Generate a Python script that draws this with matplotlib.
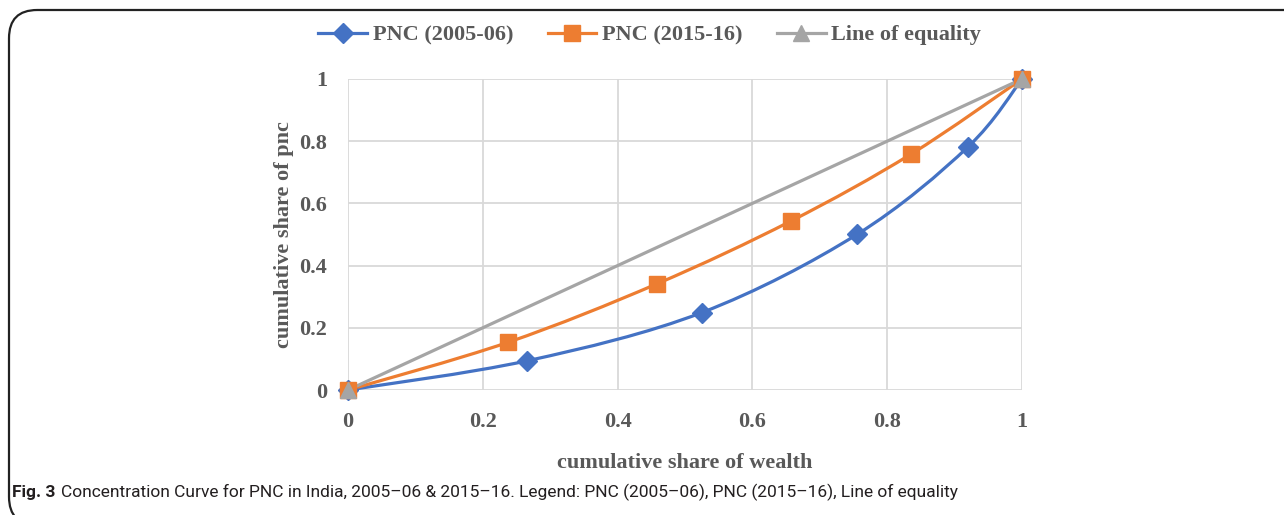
import numpy as np
import matplotlib.pyplot as plt
from matplotlib.path import Path
from matplotlib.patches import PathPatch, FancyBboxPatch
from matplotlib.lines import Line2D

# cumulative share of wealth / pnc
x_2005 = [0, 0.266, 0.525, 0.755, 0.92, 1.0]
y_2005 = [0, 0.094, 0.249, 0.50, 0.782, 1.0]
x_2015 = [0, 0.237, 0.458, 0.657, 0.835, 1.0]
y_2015 = [0, 0.153, 0.341, 0.543, 0.758, 1.0]
x_eq = [0, 1]
y_eq = [0, 1]

ticks = [0, 0.2, 0.4, 0.6, 0.8, 1.0]
tick_labels = ['0', '0.2', '0.4', '0.6', '0.8', '1']

blue = '#4472C4'
orange = '#ED7D31'
grey = '#A5A5A5'
txt = '#595959'
serif = ['Liberation Serif', 'DejaVu Serif']
fs = 16


def smooth_path(xs, ys):
    # excel-like smoothed line: catmull-rom converted to cubic bezier
    p = np.column_stack([xs, ys]).astype(float)
    n = len(p)
    verts = [p[0]]
    codes = [Path.MOVETO]
    for i in range(n - 1):
        p0 = p[i - 1] if i > 0 else p[i]
        p3 = p[i + 2] if i + 2 < n else p[i + 1]
        c1 = p[i] + (p[i + 1] - p0) / 6
        c2 = p[i + 1] - (p3 - p[i]) / 6
        verts += [c1, c2, p[i + 1]]
        codes += [Path.CURVE4] * 3
    return Path(verts, codes)


fig = plt.figure(figsize=(12.84, 5.15), dpi=100)
ax = fig.add_axes([0.271, 0.2427, 0.525, 0.604])

for xs, ys, c, m, ms in [(x_2005, y_2005, blue, 'D', 10),
                         (x_2015, y_2015, orange, 's', 11),
                         (x_eq, y_eq, grey, '^', 12)]:
    ax.add_patch(PathPatch(smooth_path(xs, ys), fc='none', ec=c, lw=2.3,
                           capstyle='round', zorder=3))
    ax.plot(xs, ys, ls='none', marker=m, ms=ms, color=c, mec=c,
            clip_on=False, zorder=4)

ax.set_xlim(0, 1)
ax.set_ylim(0, 1)
ax.set_xticks(ticks)
ax.set_yticks(ticks)
ax.set_xticklabels(tick_labels)
ax.set_yticklabels(tick_labels)
ax.grid(True, color='#D9D9D9', lw=1.3)
ax.set_axisbelow(True)
for s in ax.spines.values():
    s.set_visible(False)
ax.tick_params(axis='x', length=0, pad=16, labelcolor=txt, labelsize=fs)
ax.tick_params(axis='y', length=0, pad=15, labelcolor=txt, labelsize=fs)
for lab in ax.get_xticklabels() + ax.get_yticklabels():
    lab.set_fontfamily(serif)
    lab.set_fontweight('bold')

ax.set_xlabel('cumulative share of wealth', fontsize=fs, fontweight='bold',
              family=serif, color=txt, labelpad=15)
ax.set_ylabel('cumulative share of pnc', fontsize=fs, fontweight='bold',
              family=serif, color=txt, labelpad=4)

handles = [Line2D([], [], color=blue, lw=2.3, marker='D', ms=10),
           Line2D([], [], color=orange, lw=2.3, marker='s', ms=11),
           Line2D([], [], color=grey, lw=2.3, marker='^', ms=12)]
names = ['PNC (2005-06)', 'PNC (2015-16)', 'Line of equality']
leg = fig.legend(handles, names, loc='center', bbox_to_anchor=(0.506, 0.932),
                 ncol=3, frameon=False, handlelength=2.2, handletextpad=0.25,
                 columnspacing=1.55,
                 prop={'family': serif, 'weight': 'bold', 'size': fs})
for t in leg.get_texts():
    t.set_color(txt)

# rounded frame around figure
box = FancyBboxPatch((9 / 1284, -10 / 515), 1.2, (515 - 10 + 10) / 515,
                     boxstyle='round,pad=0,rounding_size=0.022',
                     transform=fig.transFigure, fc='none', ec='#222222',
                     lw=1.6, clip_on=False, mutation_aspect=1284 / 515)
fig.patches.append(box)

cap_font = ['Roboto', 'DejaVu Sans']
cap_y = 1 - 492 / 515
t1 = fig.text(12 / 1284, cap_y, 'Fig. 3', fontsize=12.5, fontweight='bold',
              family=cap_font, color='#231F20', va='center')
r = fig.canvas.get_renderer()
x1 = t1.get_window_extent(r).x1 / fig.bbox.width
fig.text(x1 + 6 / 1284, cap_y,
         'Concentration Curve for PNC in India, 2005\u201306 & 2015\u201316. '
         'Legend: PNC (2005\u201306), PNC (2015\u201316), Line of equality',
         fontsize=12.5, family=cap_font, color='#231F20', va='center')

fig.savefig('out.png', dpi=100)
